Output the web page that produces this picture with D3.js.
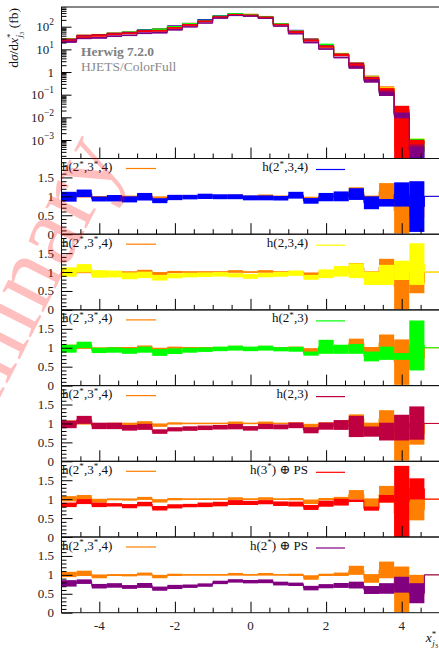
<!DOCTYPE html>
<html>
<head>
<meta charset="utf-8">
<script src="https://cdn.jsdelivr.net/npm/d3@7"></script>
<style>
  body { margin: 0; background: #fff; }
  svg { display: block; }
  text { font-family: "Liberation Serif", "DejaVu Serif", serif; }
</style>
</head>
<body>
<svg id="chart" width="439" height="649"></svg>
<script>
// ---- binning in x*_j3 ----
const binEdges = [-5, -4.6, -4.2, -3.8, -3.4, -3.0, -2.6, -2.2, -1.8, -1.4, -1.0, -0.6, -0.2,
                  0.2, 0.6, 1.0, 1.4, 1.8, 2.2, 2.6, 3.0, 3.4, 3.8, 4.2, 4.6, 5.0];

// ratio-denominator cross section per bin (fb)
const xsecNorm = [28, 37, 46, 53, 61, 72, 86, 108, 141, 199, 298, 370, 355, 280, 138,
                  65, 31, 14.8, 6.1, 2.2, 0.68, 0.175, 0.0172, 0.00066, 0];

// ratios to the denominator: central value and half-width of the uncertainty band
const ratioRef = [1.01, 1.04, 0.96, 0.995, 0.99, 1.02, 0.955, 1.0, 1.0, 1.0, 1.0, 1.015, 1.0,
                  1.015, 1.0, 1.0, 0.93, 1.0, 1.015, 1.12, 0.905, 1.13, 0.62, 0.72, 1];
const errRef   = [0.07, 0.07, 0.05, 0.025, 0.03, 0.04, 0.045, 0.03, 0.02, 0.02, 0.02, 0.035, 0.02,
                  0.035, 0.02, 0.03, 0.06, 0.03, 0.045, 0.12, 0.115, 0.22, 0.60, 0.28, 0];

const ratio234s = [0.99, 1.08, 0.93, 0.95, 0.92, 0.99, 0.885, 0.97, 0.98, 1.0, 0.99, 0.99, 0.96,
                   0.96, 0.95, 1.03, 0.88, 0.98, 1.0, 1.06, 0.83, 0.83, 1.05, 0.73, 1];
const err234s   = [0.13, 0.10, 0.065, 0.085, 0.08, 0.10, 0.065, 0.07, 0.06, 0.07, 0.065, 0.065, 0.065,
                   0.065, 0.06, 0.09, 0.075, 0.11, 0.13, 0.155, 0.17, 0.10, 0.32, 0.67, 0];

const ratio234 = [1.0, 1.10, 0.95, 0.95, 0.90, 0.925, 0.85, 0.9, 0.92, 0.93, 0.94, 0.915, 0.885,
                  0.92, 0.94, 0.97, 0.86, 0.955, 1.02, 1.035, 0.835, 0.925, 1.045, 1.21, 1];
const err234   = [0.125, 0.11, 0.10, 0.09, 0.09, 0.085, 0.075, 0.065, 0.06, 0.06, 0.06, 0.055, 0.065,
                  0.06, 0.065, 0.07, 0.065, 0.115, 0.14, 0.195, 0.175, 0.265, 0.255, 0.55, 0];

const ratio23s = [0.975, 1.075, 0.93, 0.94, 0.915, 0.95, 0.875, 0.91, 0.935, 0.95, 0.97, 0.99, 0.97,
                  0.99, 0.96, 0.96, 0.845, 1.025, 0.96, 0.97, 0.77, 0.855, 0.77, 1.06, 1];
const err23s   = [0.105, 0.085, 0.07, 0.07, 0.075, 0.08, 0.09, 0.075, 0.065, 0.06, 0.06, 0.065, 0.06,
                  0.065, 0.055, 0.065, 0.055, 0.185, 0.12, 0.13, 0.13, 0.175, 0.09, 0.66, 0];

const ratio23 = [0.975, 1.095, 0.935, 0.935, 0.885, 0.91, 0.785, 0.845, 0.865, 0.885, 0.90, 0.915, 0.87,
                 0.92, 0.91, 0.95, 0.82, 0.93, 0.96, 0.92, 0.785, 0.785, 0.89, 1.01, 1];
const err23   = [0.10, 0.105, 0.085, 0.085, 0.075, 0.08, 0.06, 0.055, 0.06, 0.06, 0.06, 0.07, 0.06,
                 0.07, 0.065, 0.075, 0.08, 0.095, 0.13, 0.28, 0.135, 0.235, 0.34, 0.44, 0];

const ratio3sPS = [0.85, 0.935, 0.85, 0.85, 0.815, 0.87, 0.76, 0.81, 0.83, 0.85, 0.87, 0.91, 0.90,
                   0.92, 0.88, 0.87, 0.78, 0.88, 0.92, 0.96, 0.75, 1.01, 0.93, 1.27, 1];
const err3sPS   = [0.06, 0.065, 0.06, 0.045, 0.055, 0.06, 0.06, 0.055, 0.045, 0.06, 0.06, 0.065, 0.055,
                   0.055, 0.06, 0.065, 0.065, 0.08, 0.09, 0.035, 0.055, 0.10, 0.95, 0.28, 0];

const ratio2sPS = [0.775, 0.82, 0.70, 0.72, 0.68, 0.72, 0.635, 0.68, 0.70, 0.73, 0.80, 0.84, 0.82,
                   0.83, 0.77, 0.75, 0.65, 0.70, 0.72, 0.73, 0.60, 0.64, 0.74, 0.515, 1];
const err2sPS   = [0.085, 0.06, 0.06, 0.06, 0.05, 0.065, 0.055, 0.055, 0.045, 0.045, 0.045, 0.045, 0.045,
                   0.05, 0.05, 0.045, 0.06, 0.055, 0.065, 0.09, 0.105, 0.14, 0.21, 0.265, 0];

const refLabel = "h(2*,3*,4)";
const seriesLabels = ["h(2*,3,4)", "h(2,3,4)", "h(2*,3)", "h(2,3)", "h(3*) \u2295 PS", "h(2*) \u2295 PS"];
const seriesColors = ["#0000ff", "#ffff00", "#00ff00", "#bf0040", "#ff0000", "#800080"];
const refColor = "#ff8000";

const mainYTicks = [1e-3, 1e-2, 1e-1, 1, 10, 100];
const mainYLabels = [["10", "\u22123"], ["10", "\u22122"], ["10", "\u22121"], ["1", ""], ["10", "1"], ["10", "2"]];
const ratioYTicks = [0, 0.5, 1, 1.5];
const ratioYLabels = ["0", "0.5", "1", "1.5"];
const xTicks = [-4, -2, 0, 2, 4];
const xTickLabels = ["-4", "-2", "0", "2", "4"];

// ---- layout ----
const svg = d3.select("#chart");
const left = 61.5, right = 439.5;
const mainTop = 7, mainBottom = 158.5;
const ratioH = 75.7;
const nRatio = 6;

const x = d3.scaleLinear().domain([-5, 5]).range([left, right]);
const yMain = d3.scaleLog().domain([Math.pow(10, -3.816), Math.pow(10, 2.869)]).range([mainBottom, mainTop]);

const series = [
  { r: ratioRef, e: errRef, color: refColor, label: refLabel },
  ...seriesLabels.map((l, k) => ({
    r: [ratio234s, ratio234, ratio23s, ratio23, ratio3sPS, ratio2sPS][k],
    e: [err234s, err234, err23s, err23, err3sPS, err2sPS][k],
    color: seriesColors[k], label: l
  }))
];

const bins = d3.range(binEdges.length - 1);

function clip(id, y0, y1) {
  svg.append("clipPath").attr("id", id)
    .append("rect").attr("x", left).attr("y", y0).attr("width", right - left).attr("height", y1 - y0);
  return "url(#" + id + ")";
}

// ---- main panel ----
const gMain = svg.append("g").attr("clip-path", clip("clipMain", mainTop, mainBottom));
const floorVal = yMain.domain()[0] * 0.1;
series.forEach(s => {
  const g = gMain.append("g");
  bins.forEach(i => {
    if (xsecNorm[i] <= 0) return;
    const hi = xsecNorm[i] * (s.r[i] + s.e[i]);
    const lo = Math.max(xsecNorm[i] * (s.r[i] - s.e[i]), floorVal);
    g.append("rect")
      .attr("x", x(binEdges[i])).attr("width", x(binEdges[i + 1]) - x(binEdges[i]))
      .attr("y", yMain(hi)).attr("height", Math.max(yMain(lo) - yMain(hi), 0.8))
      .attr("fill", s.color);
  });
  const pts = [];
  bins.forEach(i => {
    if (xsecNorm[i] <= 0) return;
    const v = xsecNorm[i] * s.r[i];
    pts.push([binEdges[i], v], [binEdges[i + 1], v]);
  });
  g.append("path").attr("d", d3.line().x(d => x(d[0])).y(d => yMain(d[1]))(pts))
    .attr("fill", "none").attr("stroke", s.color).attr("stroke-width", 1);
});

// inward tick marks
function drawYTicks(g, scale, majors, minors, majLen, minLen) {
  g.append("g").attr("transform", `translate(${left},0)`)
    .call(d3.axisRight(scale).tickValues(minors).tickSize(minLen).tickFormat(""))
    .call(a => a.select(".domain").remove());
  g.append("g").attr("transform", `translate(${left},0)`)
    .call(d3.axisRight(scale).tickValues(majors).tickSize(majLen).tickFormat(""))
    .call(a => a.select(".domain").remove());
}
function drawXTicks(g, yPos) {
  const minors = d3.range(-4.5, 5, 0.5).filter(v => Math.abs(v % 2) > 1e-6);
  g.append("g").attr("transform", `translate(0,${yPos})`)
    .call(d3.axisTop(x).tickValues(minors).tickSize(5).tickFormat(""))
    .call(a => a.select(".domain").remove());
  g.append("g").attr("transform", `translate(0,${yPos})`)
    .call(d3.axisTop(x).tickValues(xTicks).tickSize(11).tickFormat(""))
    .call(a => a.select(".domain").remove());
}

const axes = svg.append("g");
const mainMinors = [];
for (let p = -4; p <= 2; p++) for (let k = 2; k <= 9; k++) {
  const v = k * Math.pow(10, p);
  if (v >= yMain.domain()[0] && v <= yMain.domain()[1]) mainMinors.push(v);
}
drawYTicks(axes, yMain, mainYTicks, mainMinors, 10, 5);
drawXTicks(axes, mainBottom);

mainYTicks.forEach((t, k) => {
  const lab = mainYLabels[k];
  const tx = axes.append("text").attr("x", 54).attr("y", yMain(t) + 4.5)
    .attr("text-anchor", "end").attr("font-size", 13).attr("fill", "#222");
  tx.append("tspan").text(lab[0]);
  if (lab[1]) tx.append("tspan").attr("dy", -6).attr("font-size", 9.5).text(lab[1]);
});

// generator / process tag
svg.append("text").attr("x", 81).attr("y", 56).attr("font-size", 13.5)
  .attr("font-weight", "bold").attr("fill", "#808080").text("Herwig 7.2.0");
svg.append("text").attr("x", 81).attr("y", 70.5).attr("font-size", 13.5)
  .attr("fill", "#8a8a8a").text("HJETS/ColorFull");

// y-axis title
const yTitle = svg.append("text").attr("transform", "translate(18,8) rotate(-90)")
  .attr("text-anchor", "end").attr("font-size", 13.5).attr("fill", "#111");
yTitle.append("tspan").text("d");
yTitle.append("tspan").attr("font-style", "italic").text("\u03c3");
yTitle.append("tspan").text("/d");
yTitle.append("tspan").attr("font-style", "italic").text("x");
yTitle.append("tspan").attr("dy", -5).attr("font-size", 9).text("*");
yTitle.append("tspan").attr("dx", -4).attr("dy", 8.5).attr("font-size", 9).attr("font-style", "italic").text("j");
yTitle.append("tspan").attr("dy", 2).attr("font-size", 6.5).text("3");
yTitle.append("tspan").attr("dy", -5.5).attr("font-size", 13.5).text("\u00a0(fb)");

// ---- ratio panels ----
function richLabel(sel, str, size) {
  const parts = str.split("*");
  parts.forEach((p, k) => {
    if (k > 0) {
      sel.append("tspan").attr("dy", -4.5).attr("font-size", size * 0.7).text("*");
      sel.append("tspan").attr("dy", 4.5).attr("font-size", size).text(p);
    } else {
      sel.append("tspan").text(p);
    }
  });
}

for (let k = 0; k < nRatio; k++) {
  const top = mainBottom + k * ratioH;
  const bottom = top + ratioH;
  const yR = d3.scaleLinear().domain([0, 2]).range([bottom, top]);
  const g = svg.append("g").attr("clip-path", clip("clipR" + k, top, bottom));
  [series[0], series[k + 1]].forEach(s => {
    bins.forEach(i => {
      const hi = s.r[i] + s.e[i], lo = s.r[i] - s.e[i];
      if (hi === lo) return;
      g.append("rect")
        .attr("x", x(binEdges[i])).attr("width", x(binEdges[i + 1]) - x(binEdges[i]))
        .attr("y", yR(hi)).attr("height", yR(lo) - yR(hi))
        .attr("fill", s.color);
    });
    const pts = [];
    bins.forEach(i => pts.push([binEdges[i], s.r[i]], [binEdges[i + 1], s.r[i]]));
    g.append("path").attr("d", d3.line().x(d => x(d[0])).y(d => yR(d[1]))(pts))
      .attr("fill", "none").attr("stroke", s.color).attr("stroke-width", 1);
  });

  const ax = svg.append("g");
  drawYTicks(ax, yR, ratioYTicks, d3.range(0.1, 2, 0.1).filter(v => Math.abs(v * 2 - Math.round(v * 2)) > 1e-6), 11, 5);
  drawXTicks(ax, bottom);
  ratioYTicks.forEach((t, j) => {
    ax.append("text").attr("x", 54).attr("y", yR(t) + 4.5).attr("text-anchor", "end")
      .attr("font-size", 13).attr("fill", "#222").text(ratioYLabels[j]);
  });

  // legend: reference sample on the left, compared sample on the right
  const lt = ax.append("text").attr("x", 62).attr("y", top + 12.5).attr("font-size", 13).attr("fill", "#111");
  richLabel(lt, series[0].label, 13);
  ax.append("line").attr("x1", 126).attr("x2", 156).attr("y1", top + 10).attr("y2", top + 10)
    .attr("stroke", series[0].color).attr("stroke-width", 1.2);
  const rt = ax.append("text").attr("x", 308).attr("y", top + 12.5).attr("text-anchor", "end")
    .attr("font-size", 13).attr("fill", "#111");
  richLabel(rt, series[k + 1].label, 13);
  ax.append("line").attr("x1", 316).attr("x2", 345).attr("y1", top + 11).attr("y2", top + 11)
    .attr("stroke", series[k + 1].color).attr("stroke-width", 1.2);

  ax.append("rect").attr("x", left).attr("y", top).attr("width", right - left).attr("height", ratioH)
    .attr("fill", "none").attr("stroke", "#111").attr("stroke-width", 1);
}

// main frame
svg.append("rect").attr("x", left).attr("y", mainTop).attr("width", right - left)
  .attr("height", mainBottom - mainTop).attr("fill", "none").attr("stroke", "#111").attr("stroke-width", 1);

// x tick labels and title on the lowest panel
const lastBottom = mainBottom + nRatio * ratioH;
xTicks.forEach((t, k) => {
  svg.append("text").attr("x", x(t)).attr("y", lastBottom + 17.5).attr("text-anchor", "middle")
    .attr("font-size", 13).attr("fill", "#222").text(xTickLabels[k]);
});
const xTitle = svg.append("text").attr("x", 438).attr("y", 642).attr("text-anchor", "end")
  .attr("font-size", 13.5).attr("fill", "#111");
xTitle.append("tspan").attr("font-style", "italic").text("x");
xTitle.append("tspan").attr("dy", -5).attr("font-size", 9).text("*");
xTitle.append("tspan").attr("dx", -4).attr("dy", 8.5).attr("font-size", 9).attr("font-style", "italic").text("j");
xTitle.append("tspan").attr("dy", 2).attr("font-size", 6.5).text("3");

// preliminary watermark
svg.append("text").attr("transform", "translate(123,156) rotate(-63)")
  .attr("text-anchor", "end").attr("font-size", 100).attr("fill", "rgba(255,0,0,0.25)")
  .text("Preliminary");
</script>
</body>
</html>
